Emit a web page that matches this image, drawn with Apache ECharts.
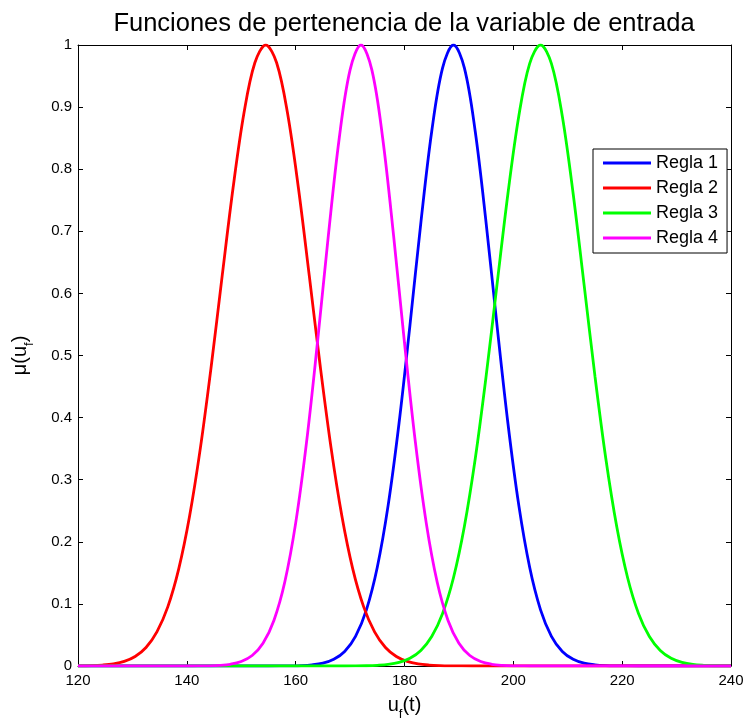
<!DOCTYPE html>
<html>
<head>
<meta charset="utf-8">
<script src="https://cdn.jsdelivr.net/npm/echarts/dist/echarts.min.js"></script>
<style>
html,body{margin:0;padding:0;background:#fff;}
#chart{width:745px;height:720px;}
</style>
</head>
<body>
<div id="chart"></div>
<script>
// ---- data ----
const titleText = 'Funciones de pertenencia de la variable de entrada';
const seriesNames = ['Regla 1', 'Regla 2', 'Regla 3', 'Regla 4'];
const seriesColors = ['#0000ff', '#ff0000', '#00ff00', '#ff00ff'];

const regla1X = [120,153,157,159,161,163,165,167,169,171,173,175,177,179,181,183,185,187,189,191,193,195,197,199,201,203,205,207,209,211,213,215,217,219,221,225,240];
const regla1Y = [0,0,0.0001,0.0002,0.0006,0.0018,0.0045,0.0107,0.0234,0.0478,0.0905,0.1590,0.2590,0.3913,0.5486,0.7133,0.8606,0.9632,1,0.9632,0.8606,0.7133,0.5486,0.3913,0.2590,0.1590,0.0905,0.0478,0.0234,0.0107,0.0045,0.0018,0.0006,0.0002,0.0001,0,0];

const regla2X = [120,122.5,124.5,126.5,128.5,130.5,132.5,134.5,136.5,138.5,140.5,142.5,144.5,146.5,148.5,150.5,152.5,154.5,156.5,158.5,160.5,162.5,164.5,166.5,168.5,170.5,172.5,174.5,176.5,178.5,180.5,182.5,184.5,186.5,188.5,190.5,194.5,240];
const regla2Y = [0.0002,0.0006,0.0015,0.0034,0.0074,0.0153,0.0298,0.0549,0.0952,0.1560,0.2411,0.3517,0.4839,0.6285,0.7701,0.8904,0.9714,1,0.9714,0.8904,0.7701,0.6285,0.4839,0.3517,0.2411,0.1560,0.0952,0.0549,0.0298,0.0153,0.0074,0.0034,0.0015,0.0006,0.0002,0.0001,0,0];

const regla3X = [120,167,171,173,175,177,179,181,183,185,187,189,191,193,195,197,199,201,203,205,207,209,211,213,215,217,219,221,223,225,227,229,231,233,235,237,239,240];
const regla3Y = [0,0,0.0001,0.0004,0.0011,0.0025,0.0058,0.0124,0.0250,0.0474,0.0846,0.1421,0.2245,0.3337,0.4667,0.6140,0.7601,0.8852,0.9700,1,0.9700,0.8852,0.7601,0.6140,0.4667,0.3337,0.2245,0.1421,0.0846,0.0474,0.0250,0.0124,0.0058,0.0025,0.0011,0.0004,0.0001,0.0001];

const regla4X = [120,138,140,142,144,146,148,150,152,154,156,158,160,162,164,166,168,170,172,174,176,178,180,182,184,186,188,190,192,194,196,198,200,202,204,206,240];
const regla4Y = [0,0,0,0.0001,0.0003,0.0010,0.0028,0.0072,0.0169,0.0367,0.0734,0.1353,0.2301,0.3604,0.5205,0.6926,0.8494,0.9600,1,0.9600,0.8494,0.6926,0.5205,0.3604,0.2301,0.1353,0.0734,0.0367,0.0169,0.0072,0.0028,0.0010,0.0003,0.0001,0,0,0];

const xMin = 120, xMax = 240, xStep = 20;
const yMin = 0, yMax = 1, yStep = 0.1;

// ---- chart ----
const FONT = '"Liberation Sans", Arial, Helvetica, sans-serif';
const pairs = (xs, ys) => xs.map((x, i) => [x, ys[i]]);
const allX = [regla1X, regla2X, regla3X, regla4X];
const allY = [regla1Y, regla2Y, regla3Y, regla4Y];

const chart = echarts.init(document.getElementById('chart'), null, {renderer: 'canvas'});

const axisCommon = {
  axisLine: {show: true, onZero: false, lineStyle: {color: '#000', width: 1}},
  axisTick: {show: true, inside: true, length: 5, lineStyle: {color: '#000', width: 1}},
  splitLine: {show: false}
};

const nameRich = {
  a: {fontSize: 20, fontFamily: FONT, color: '#000', lineHeight: 22, verticalAlign: 'top'},
  b: {fontSize: 13, fontFamily: FONT, color: '#000', lineHeight: 13, verticalAlign: 'top', padding: [13, 0, 0, 0]}
};

const option = {
  animation: false,
  backgroundColor: '#fff',
  graphic: [{
    type: 'text',
    x: 404, y: 11,
    style: {text: titleText, fill: '#000', font: '25.5px ' + FONT, textAlign: 'center', textVerticalAlign: 'top'}
  }],
  grid: {left: 78, right: 14, top: 45, bottom: 54, containLabel: false, outerBoundsMode: 'none'},
  legend: {
    data: seriesNames,
    orient: 'vertical',
    left: 593, top: 149,
    padding: [5, 9, 6, 10],
    itemGap: 7,
    itemWidth: 48, itemHeight: 3,
    icon: 'rect',
    backgroundColor: '#fff',
    borderColor: '#000', borderWidth: 1, borderRadius: 0,
    textStyle: {fontSize: 18, lineHeight: 18, fontFamily: FONT, color: '#000'}
  },
  xAxis: [
    Object.assign({
      type: 'value', min: xMin, max: xMax, interval: xStep, position: 'bottom',
      axisLabel: {color: '#000', fontSize: 15, fontFamily: FONT, margin: 7},
      name: '{a|u}{b|f}{a|(t)}', nameLocation: 'middle', nameGap: 29,
      nameTextStyle: {rich: nameRich}
    }, axisCommon),
    Object.assign({
      type: 'value', min: xMin, max: xMax, interval: xStep, position: 'top',
      axisLabel: {show: false}
    }, axisCommon)
  ],
  yAxis: [
    Object.assign({
      type: 'value', min: yMin, max: yMax, interval: yStep, position: 'left',
      axisLabel: {color: '#000', fontSize: 15, fontFamily: FONT, margin: 6},
      name: '{a|μ(u}{b|f}{a|)}', nameLocation: 'middle', nameGap: 46, nameRotate: 90,
      nameTextStyle: {rich: nameRich}
    }, axisCommon),
    Object.assign({
      type: 'value', min: yMin, max: yMax, interval: yStep, position: 'right',
      axisLabel: {show: false}
    }, axisCommon)
  ],
  series: seriesNames.map((name, i) => ({
    name: name,
    type: 'line',
    xAxisIndex: 0, yAxisIndex: 0,
    data: pairs(allX[i], allY[i]),
    showSymbol: false, symbol: 'none',
    smooth: 0.35,
    color: seriesColors[i],
    lineStyle: {color: seriesColors[i], width: 2.8},
    emphasis: {disabled: true},
    clip: true
  }))
};
chart.setOption(option);
</script>
</body>
</html>
